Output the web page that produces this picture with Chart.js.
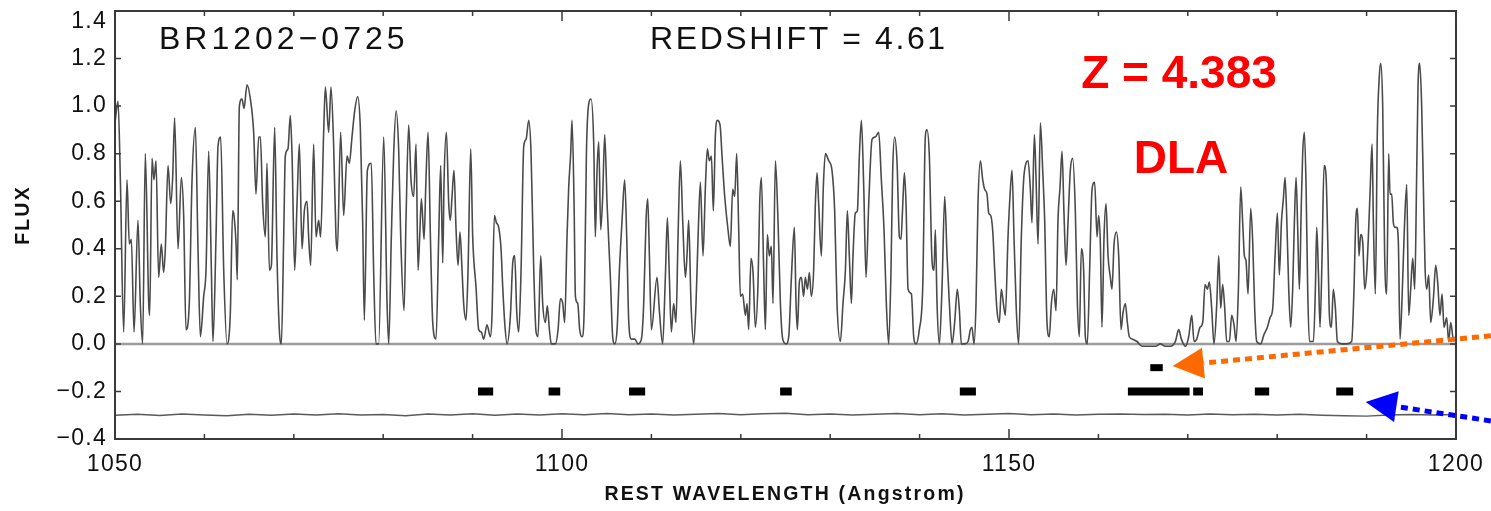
<!doctype html>
<html lang="en">
<head>
<meta charset="utf-8">
<title>BR1202-0725 spectrum</title>
<style>
  * { margin: 0; padding: 0; }
  body { background: #fff; }
  #spectrum { display: block; }
</style>
</head>
<body>
<canvas id="spectrum" width="1491" height="511"></canvas>
<script src="https://cdn.jsdelivr.net/npm/chart.js/dist/chart.umd.min.js"></script>
<script>
// rest wavelength (Angstrom) and normalised flux of the forest
const wavelength = [
  1050.00,1050.34,1050.60,1050.97,1051.34,1051.60,1051.83,1052.13,1052.57,1052.83,
  1053.09,1053.39,1053.77,1053.88,1054.14,1054.36,1054.59,1054.88,1055.18,1055.44,
  1055.63,1055.93,1056.23,1056.45,1056.67,1057.05,1057.42,1057.68,1057.94,1058.31,
  1058.61,1058.99,1059.28,1059.55,1059.92,1060.18,1060.48,1060.78,1060.96,1061.30,
  1061.52,1061.82,1062.16,1062.53,1062.90,1063.16,1063.31,1063.54,1063.68,1063.91,
  1064.21,1064.43,1064.77,1065.14,1065.51,1065.77,1066.07,1066.26,1066.52,1066.82,
  1067.00,1067.27,1067.49,1067.86,1068.12,1068.38,1068.61,1068.87,1069.05,1069.35,
  1069.61,1069.80,1070.10,1070.36,1070.62,1070.92,1071.18,1071.48,1071.66,1071.89,
  1072.22,1072.48,1072.78,1073.00,1073.34,1073.53,1073.90,1074.16,1074.46,1074.72,
  1074.87,1075.24,1075.58,1075.95,1076.21,1076.51,1076.81,1077.14,1077.44,1077.70,
  1077.89,1078.23,1078.67,1078.93,1079.19,1079.49,
  1080.06,1080.43,1080.62,1080.91,1081.17,1081.44,1081.73,1081.96,1082.33,1082.55,
  1082.85,1083.11,1083.41,1083.67,1083.90,1084.08,1084.27,1084.57,1084.79,1085.02,
  1085.28,1085.54,1085.91,1086.21,1086.43,1086.66,1086.81,1087.07,1087.33,1087.51,
  1087.70,1087.92,1088.15,1088.37,1088.59,1088.82,1089.00,1089.27,1089.49,1089.79,
  1090.01,1090.38,1090.68,1090.98,1091.24,1091.61,1091.99,1092.17,1092.44,1092.66,
  1092.92,1093.18,1093.37,1093.59,1093.85,1094.23,1094.49,1094.71,1094.93,1095.16,
  1095.42,1095.72,1095.98,1096.28,1096.54,1096.84,1097.10,1097.32,1097.62,1097.84,
  1098.14,1098.36,1098.59,1098.81,1099.26,1099.56,1099.82,1100.08,1100.30,1100.56,
  1100.75,1100.97,1101.12,1101.35,1101.50,1101.76,1101.98,1102.24,1102.50,1102.73,
  1102.99,1103.25,1103.55,1103.73,1103.92,1104.11,1104.33,1104.55,1104.78,1105.04,
  1105.41,1105.67,1105.90,1106.16,1106.42,1106.72,1107.01,1107.24,1107.46,1107.76,
  1108.13,1108.51,1108.88,1109.14,1109.40,1109.59,1109.77,1110.00,
  1110.63,1110.89,1111.26,1111.56,1111.79,1112.01,1112.23,1112.49,1112.75,1112.98,
  1113.24,1113.50,1113.80,1113.98,1114.17,1114.43,1114.73,1114.99,1115.22,1115.48,
  1115.77,1116.04,1116.26,1116.48,1116.71,1116.93,1117.15,1117.38,1117.68,1117.90,
  1118.20,1118.57,1118.83,1119.09,1119.32,1119.54,1119.76,1119.95,1120.21,1120.51,
  1120.70,1120.88,1121.14,1121.37,1121.63,1121.93,1122.11,1122.30,1122.56,1122.75,
  1122.97,1123.19,1123.42,1123.60,1123.87,1124.16,1124.43,1124.69,1125.06,1125.36,
  1125.66,1125.99,1126.18,1126.33,1126.55,1126.77,1127.03,1127.22,1127.45,1127.67,
  1127.89,1128.15,1128.34,1128.53,1128.71,1129.01,1129.23,1129.46,1129.83,1130.20,
  1130.50,1130.76,1131.14,1131.43,1131.70,1131.92,1132.14,1132.37,1132.55,1132.81,
  1133.04,1133.26,1133.49,1133.75,1134.01,1134.31,1134.68,1135.05,1135.43,1135.72,
  1136.02,1136.28,1136.54,1136.80,1136.99,1137.21,1137.48,1137.74,1137.92,1138.11,
  1138.30,1138.48,1138.71,1139.08,1139.34,1139.60,1139.97,1140.35,
  1140.64,1140.83,1141.09,1141.39,1141.61,1141.76,1141.95,1142.21,1142.51,1142.81,
  1143.07,1143.33,1143.63,1143.92,1144.22,1144.45,1144.67,1145.04,1145.42,1145.68,
  1145.86,1146.09,1146.31,1146.53,1146.80,1147.06,1147.28,1147.54,1147.73,1147.95,
  1148.17,1148.40,1148.66,1148.92,1149.14,1149.37,1149.59,1149.89,1150.11,1150.34,
  1150.56,1150.82,1151.08,1151.38,1151.64,1151.90,1152.13,1152.39,1152.57,1152.84,
  1153.02,1153.25,1153.51,1153.77,1153.99,1154.25,1154.51,1154.74,1155.00,1155.26,
  1155.48,1155.71,1155.93,1156.15,1156.38,1156.60,1156.86,1157.12,1157.42,1157.65,
  1157.87,1158.09,1158.35,1158.54,1158.76,1159.02,1159.29,1159.58,1159.85,1160.03,
  1160.22,1160.40,1160.63,1160.85,1161.08,1161.34,1161.52,1161.75,1162.01,1162.27,
  1162.53,1162.75,1163.01,1163.24,1163.46,1163.83,1164.32,1164.88,1165.63,1166.37,
  1166.93,1167.49,1168.05,1168.61,1168.98,1169.28,1169.73,1170.10,
  1170.44,1170.70,1171.00,1171.37,1171.67,1171.93,1172.19,1172.41,1172.67,1172.93,
  1173.23,1173.46,1173.68,1173.90,1174.13,1174.35,1174.65,1174.91,1175.17,1175.40,
  1175.66,1175.92,1176.14,1176.33,1176.51,1176.74,1177.04,1177.26,1177.48,1177.71,
  1178.15,1178.53,1178.90,1179.20,1179.50,1179.76,1180.02,1180.24,1180.47,1180.69,
  1180.88,1181.06,1181.29,1181.51,1181.73,1181.92,1182.11,1182.29,1182.48,1182.70,
  1182.85,1183.04,1183.23,1183.41,1183.60,1184.05,1184.27,1184.42,1184.61,1184.79,
  1185.02,1185.24,1185.46,1185.65,1185.84,1186.06,1186.28,1186.51,1186.73,1187.22,
  1187.77,1188.33,1188.59,1188.78,1188.97,1189.15,1189.34,1189.56,1189.79,1190.01,
  1190.24,1190.42,1190.61,1190.76,1190.98,1191.20,1191.43,1191.58,1191.80,1192.02,
  1192.25,1192.47,1192.62,1192.81,1192.99,1193.18,1193.37,1193.55,1193.74,1194.00,
  1194.23,1194.49,1194.71,1194.93,1195.16,1195.38,1195.60,1195.75,1195.94,1196.16,
  1196.35,1196.54,1196.72,1196.95,1197.17,1197.47,1197.73,1197.95,1198.21,1198.44,
  1198.66,1198.96,1199.18,1199.41,1199.71,1199.89,1200.00
];
const flux = [
  0.93,1.02,0.69,0.05,0.69,0.42,0.44,0.05,0.52,0.17,
  0.00,0.80,0.17,0.12,0.78,0.69,0.77,0.28,0.42,0.30,
  0.40,0.75,0.59,0.70,0.95,0.40,0.70,0.54,0.06,0.17,
  0.68,0.91,0.41,0.03,0.20,0.31,0.81,0.31,0.01,0.45,
  0.83,0.87,0.31,0.00,0.13,0.56,0.54,0.42,0.27,1.00,
  1.03,0.99,1.09,1.03,0.89,0.63,0.87,0.87,0.59,0.45,
  0.76,0.31,0.33,0.91,0.37,0.06,0.00,0.45,0.79,0.82,
  0.96,0.80,0.31,0.59,0.84,0.40,0.56,0.60,0.45,0.33,
  0.84,0.45,0.52,0.45,0.89,1.08,0.89,1.08,0.83,0.45,
  0.39,0.89,0.54,0.79,0.76,0.87,0.98,1.04,0.91,0.52,
  0.10,0.73,0.76,0.31,0.00,0.00,
  0.87,0.17,0.00,0.45,0.80,0.98,0.82,0.45,0.14,0.52,
  0.92,0.69,0.62,0.84,0.31,0.45,0.61,0.44,0.70,0.89,
  0.45,0.09,0.02,0.45,0.75,0.34,0.69,0.89,0.59,0.52,
  0.62,0.73,0.48,0.33,0.47,0.31,0.17,0.10,0.31,0.82,
  0.45,0.24,0.06,0.05,0.02,0.08,0.03,0.12,0.54,0.51,
  0.49,0.40,0.24,0.09,0.00,0.12,0.34,0.37,0.14,0.05,
  0.31,0.83,0.86,0.94,0.80,0.31,0.05,0.03,0.37,0.17,
  0.09,0.16,0.06,0.00,0.00,0.06,0.19,0.17,0.09,0.45,
  0.66,0.80,0.94,0.59,0.20,0.17,0.06,0.03,0.17,0.80,
  1.01,1.03,0.84,0.45,0.73,0.85,0.48,0.62,0.88,0.59,
  0.28,0.03,0.00,0.06,0.31,0.52,0.69,0.45,0.10,0.02,
  0.02,0.00,0.02,0.17,0.52,0.61,0.38,0.06,
  0.28,0.14,0.00,0.28,0.53,0.28,0.05,0.17,0.09,0.45,
  0.77,0.52,0.28,0.37,0.52,0.17,0.00,0.17,0.45,0.68,
  0.37,0.66,0.82,0.77,0.79,0.56,0.87,0.94,0.92,0.79,
  0.62,0.48,0.41,0.65,0.62,0.80,0.49,0.20,0.21,0.12,
  0.17,0.06,0.36,0.30,0.07,0.26,0.59,0.70,0.31,0.06,
  0.46,0.37,0.41,0.17,0.77,0.52,0.17,0.02,0.00,0.03,
  0.28,0.49,0.17,0.06,0.26,0.28,0.20,0.28,0.23,0.30,
  0.20,0.31,0.59,0.72,0.59,0.37,0.66,0.80,0.77,0.73,
  0.56,0.17,0.01,0.17,0.31,0.56,0.37,0.17,0.37,0.55,
  0.56,0.79,0.94,0.66,0.28,0.59,0.86,0.87,0.89,0.69,
  0.48,0.17,0.00,0.31,0.73,0.87,0.76,0.45,0.44,0.58,
  0.72,0.59,0.23,0.21,0.03,0.00,0.06,0.24,
  0.87,0.90,0.79,0.35,0.31,0.48,0.17,0.00,0.24,0.62,
  0.37,0.17,0.00,0.09,0.23,0.14,0.00,0.00,0.01,0.06,
  0.07,0.00,0.17,0.59,0.77,0.69,0.65,0.63,0.55,0.54,
  0.48,0.31,0.14,0.09,0.23,0.17,0.12,0.45,0.62,0.73,
  0.45,0.14,0.00,0.45,0.69,0.76,0.77,0.65,0.51,0.88,
  0.70,0.42,0.93,0.73,0.52,0.09,0.03,0.17,0.23,0.14,
  0.52,0.66,0.81,0.55,0.33,0.51,0.73,0.78,0.56,0.17,
  0.03,0.40,0.31,0.03,0.00,0.31,0.65,0.68,0.45,0.54,
  0.42,0.07,0.45,0.59,0.37,0.28,0.23,0.42,0.47,0.37,
  0.06,0.13,0.17,0.09,0.03,0.02,0.01,-0.01,-0.01,-0.01,
  0.00,-0.01,-0.01,0.01,0.06,0.02,-0.01,0.03,
  0.12,0.01,0.02,0.07,0.09,0.25,0.23,0.26,0.15,0.00,
  0.16,0.37,0.15,0.25,0.15,0.01,0.01,0.12,0.08,0.01,
  0.23,0.66,0.51,0.37,0.35,0.21,0.57,0.43,0.15,0.01,
  0.00,0.04,0.07,0.11,0.15,0.37,0.55,0.29,0.51,0.61,
  0.70,0.54,0.23,0.07,0.23,0.51,0.70,0.49,0.23,0.59,
  0.80,0.89,0.66,0.23,0.01,0.01,0.23,0.49,0.30,0.07,
  0.37,0.75,0.71,0.44,0.12,0.07,0.23,0.15,0.01,0.00,
  0.00,0.01,0.23,0.51,0.57,0.37,0.46,0.43,0.23,0.30,
  0.49,0.67,0.84,0.51,0.21,0.89,1.13,1.18,1.00,0.37,
  0.21,0.80,0.63,0.63,0.51,0.49,0.49,0.43,0.02,0.23,
  0.49,0.67,0.12,0.23,0.36,0.23,0.71,1.08,1.18,1.00,
  0.66,0.32,0.23,0.29,0.09,0.19,0.33,0.26,0.12,0.21,
  0.07,0.11,0.01,0.09,0.02,0.02,0.04
];

// error spectrum, drawn offset below the zero line
const errorWave = [
  1050.0,1052.5,1055.0,1057.5,1060.0,1062.5,1065.0,1067.5,1070.0,1072.5,
  1075.0,1077.5,1080.0,1082.5,1085.0,1087.5,1090.0,1092.5,1095.0,1097.5,
  1100.0,1102.5,1105.0,1107.5,1110.0,1112.5,1115.0,1117.5,1120.0,1122.5,
  1125.0,1127.5,1130.0,1132.5,1135.0,1137.5,1140.0,1142.5,1145.0,1147.5,
  1150.0,1152.5,1155.0,1157.5,1160.0,1162.5,1165.0,1167.5,1170.0,1172.5,
  1175.0,1177.5,1180.0,1182.5,1185.0,1187.5,1190.0,1192.5,1195.0,1197.5,1200.0
];
const errorFlux = [
  -0.300,-0.296,-0.301,-0.295,-0.299,-0.302,-0.296,-0.300,-0.295,-0.299,
  -0.294,-0.299,-0.297,-0.302,-0.295,-0.299,-0.294,-0.300,-0.295,-0.299,
  -0.294,-0.298,-0.293,-0.298,-0.295,-0.299,-0.296,-0.293,-0.298,-0.294,
  -0.292,-0.298,-0.295,-0.299,-0.296,-0.293,-0.298,-0.294,-0.299,-0.296,
  -0.293,-0.298,-0.295,-0.299,-0.296,-0.295,-0.297,-0.296,-0.299,-0.295,
  -0.298,-0.296,-0.299,-0.296,-0.300,-0.302,-0.304,-0.299,-0.297,-0.299,-0.297
];

// absorber systems marked under the spectrum (start/end wavelength)
const absorberStart = [1090.6, 1098.5, 1107.5, 1124.4, 1144.5, 1163.3, 1170.6, 1177.5, 1186.6];
const absorberEnd   = [1092.3, 1099.8, 1109.3, 1125.7, 1146.3, 1170.2, 1171.7, 1179.1, 1188.5];
const absorberLevel = -0.2;
const dlaStart = [1165.8];
const dlaEnd = [1167.2];
const dlaLevel = -0.1;

// pointer arrows: tail and tip in (wavelength, flux)
const dlaArrow = { from: [1203.9, 0.034], to: [1168.3, -0.093], color: '#ff6a00' };
const metalArrow = { from: [1203.9, -0.324], to: [1189.9, -0.244], color: '#0000ff' };

function segments(starts, ends, level) {
  const pts = [];
  starts.forEach((s, i) => {
    pts.push({x: s, y: level}, {x: ends[i], y: level}, {x: ends[i], y: null});
  });
  return pts;
}

const axisFont = '"Liberation Sans", Arial, Helvetica, sans-serif';

function fmtFlux(v) {
  return Math.abs(v) < 1e-9 ? '0.0' : v.toFixed(1).replace('-', '\u2212');
}

function drawArrow(ctx, x, y, arrow) {
  const x0 = x.getPixelForValue(arrow.from[0]), y0 = y.getPixelForValue(arrow.from[1]);
  const x1 = x.getPixelForValue(arrow.to[0]), y1 = y.getPixelForValue(arrow.to[1]);
  const ang = Math.atan2(y1 - y0, x1 - x0);
  const head = 31, half = 15.5;
  const bx = x1 - head * Math.cos(ang), by = y1 - head * Math.sin(ang);
  ctx.strokeStyle = arrow.color;
  ctx.lineWidth = 5;
  ctx.setLineDash([7, 5]);
  ctx.beginPath();
  ctx.moveTo(x0, y0);
  ctx.lineTo(bx, by);
  ctx.stroke();
  ctx.setLineDash([]);
  ctx.fillStyle = arrow.color;
  ctx.beginPath();
  ctx.moveTo(x1, y1);
  ctx.lineTo(bx + half * Math.sin(ang), by - half * Math.cos(ang));
  ctx.lineTo(bx - half * Math.sin(ang), by + half * Math.cos(ang));
  ctx.closePath();
  ctx.fill();
}

function drawText(ctx, text, x, y, font, color, spacing, align, baseline) {
  ctx.font = font;
  ctx.fillStyle = color;
  ctx.letterSpacing = spacing;
  ctx.textAlign = align;
  ctx.textBaseline = baseline || 'alphabetic';
  ctx.fillText(text, x, y);
}

// IDL style box: frame plus inward ticks on all four sides
const framePlugin = {
  id: 'frame',
  beforeDraw(chart) {
    chart.ctx.letterSpacing = '1.3px';
  },
  afterDatasetsDraw(chart) {
    const {ctx, chartArea: a, scales: {x, y}} = chart;
    ctx.save();
    ctx.strokeStyle = '#3a3a3a';
    ctx.lineWidth = 2;
    ctx.strokeRect(a.left, a.top, a.right - a.left, a.bottom - a.top);
    ctx.lineWidth = 1.5;
    ctx.beginPath();
    for (let w = x.min; w <= x.max; w += 10) {
      const px = x.getPixelForValue(w);
      const len = w % 50 === 0 ? 10 : 5;
      ctx.moveTo(px, a.bottom); ctx.lineTo(px, a.bottom - len);
      ctx.moveTo(px, a.top); ctx.lineTo(px, a.top + len);
    }
    y.ticks.forEach(t => {
      const py = y.getPixelForValue(t.value);
      ctx.moveTo(a.left, py); ctx.lineTo(a.left + 6, py);
      ctx.moveTo(a.right, py); ctx.lineTo(a.right - 6, py);
    });
    ctx.stroke();
    ctx.restore();
  },
  afterDraw(chart) {
    const {ctx, chartArea: a, scales: {x, y}} = chart;
    ctx.save();
    // top label sits just inside the frame
    drawText(ctx, fmtFlux(y.max), a.left - 8, a.top + 11, '23px ' + axisFont, '#111', '1.3px', 'right', 'middle');
    drawText(ctx, 'BR1202\u22120725', a.left + 44, 49, '32px ' + axisFont, '#111', '4px', 'left');
    drawText(ctx, 'REDSHIFT = 4.61', a.left + 535, 49, '32px ' + axisFont, '#111', '2.6px', 'left');
    drawText(ctx, 'Z = 4.383', 1179, 88, 'bold 46px ' + axisFont, '#ff0000', '0px', 'center');
    drawText(ctx, 'DLA', 1181, 173, 'bold 46px ' + axisFont, '#ff0000', '0px', 'center');
    drawText(ctx, 'REST WAVELENGTH (Angstrom)', 785, 500, 'bold 19.5px ' + axisFont, '#111', '2.2px', 'center');
    ctx.save();
    ctx.translate(29, 215);
    ctx.rotate(-Math.PI / 2);
    drawText(ctx, 'FLUX', 0, 0, 'bold 19.5px ' + axisFont, '#111', '2.2px', 'center');
    ctx.restore();
    drawArrow(ctx, x, y, dlaArrow);
    drawArrow(ctx, x, y, metalArrow);
    ctx.restore();
  }
};

const data = {
  datasets: [
    {
      label: 'flux',
      data: wavelength.map((w, i) => ({x: w, y: flux[i]})),
      borderColor: '#4a4a4a',
      borderWidth: 1.6,
      cubicInterpolationMode: 'monotone'
    },
    {
      label: 'zero',
      data: [{x: 1050, y: 0}, {x: 1200, y: 0}],
      borderColor: '#9c9c9c',
      borderWidth: 2.5
    },
    {
      label: 'error',
      data: errorWave.map((w, i) => ({x: w, y: errorFlux[i]})),
      borderColor: '#5a5a5a',
      borderWidth: 1.4
    },
    {
      label: 'absorbers',
      data: segments(absorberStart, absorberEnd, absorberLevel),
      borderColor: '#000',
      borderWidth: 8,
      borderCapStyle: 'butt',
      spanGaps: false
    },
    {
      label: 'dla',
      data: segments(dlaStart, dlaEnd, dlaLevel),
      borderColor: '#000',
      borderWidth: 7,
      borderCapStyle: 'butt',
      spanGaps: false
    }
  ]
};

const config = {
  type: 'line',
  data,
  options: {
    responsive: false,
    animation: false,
    layout: { padding: { top: 11, right: 35, left: 0, bottom: 0 } },
    elements: { point: { radius: 0 } },
    plugins: { legend: { display: false }, tooltip: { enabled: false } },
    scales: {
      x: {
        type: 'linear',
        min: 1050,
        max: 1200,
        grid: { display: false, drawTicks: false },
        border: { display: false },
        ticks: {
          stepSize: 50,
          autoSkip: false,
          maxRotation: 0,
          padding: 12,
          color: '#111',
          font: { family: axisFont, size: 23 },
          callback: (v) => String(v)
        },
        afterFit(scale) {
          scale.height = 72;
          scale.paddingLeft = 0;
          scale.paddingRight = 0;
        }
      },
      y: {
        min: -0.4,
        max: 1.4,
        grid: { display: false, drawTicks: false },
        border: { display: false },
        ticks: {
          stepSize: 0.2,
          padding: 8,
          color: '#111',
          font: { family: axisFont, size: 23 },
          // the top value is drawn by the frame plugin, a little lower
          callback: (v) => Math.abs(v - 1.4) < 1e-9 ? '' : fmtFlux(v)
        },
        afterFit(scale) {
          scale.width = 115;
          scale.paddingTop = 0;
          scale.paddingBottom = 0;
        }
      }
    }
  },
  plugins: [framePlugin]
};

const spectrumChart = new Chart(document.getElementById('spectrum'), config);
</script>
</body>
</html>
